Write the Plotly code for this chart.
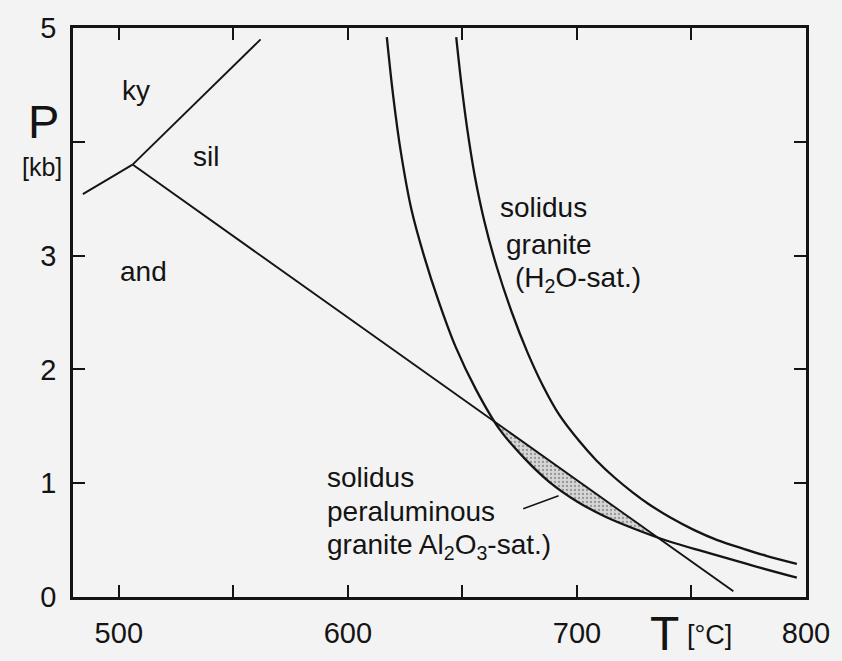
import numpy as np
import plotly.graph_objects as go

# Aluminosilicate phase boundaries (T in °C, P in kb)
triple_T, triple_P = 506.0, 3.80
ky_sil_T = [triple_T, 561.9]
ky_sil_P = [triple_P, 4.90]
ky_and_T = [triple_T, 484.3]
ky_and_P = [triple_P, 3.54]
and_sil_T = [triple_T, 768.3]
and_sil_P = [triple_P, 0.05]

# Solidus of peraluminous granite
solidus_al_T = [617.0, 619.8, 623.2, 627.8, 633.2, 639.6, 647.0, 656.0, 666.0,
                677.0, 688.0, 700.0, 712.0, 725.0, 740.0, 757.0, 776.0, 796.0]
solidus_al_P = [4.92, 4.40, 3.90, 3.40, 3.00, 2.60, 2.20, 1.82, 1.48,
                1.22, 1.01, 0.84, 0.71, 0.60, 0.49, 0.39, 0.28, 0.17]

# Water-saturated granite solidus
solidus_h2o_T = [647.3, 649.6, 652.2, 655.4, 659.6, 665.0, 671.6, 678.4, 685.3,
                 692.3, 701.0, 708.5, 716.4, 724.3, 731.1, 740.6, 751.0, 761.3,
                 772.5, 783.0, 796.0]
solidus_h2o_P = [4.92, 4.50, 4.10, 3.70, 3.30, 2.90, 2.50, 2.15, 1.85,
                 1.60, 1.37, 1.20, 1.05, 0.92, 0.82, 0.70, 0.59, 0.50,
                 0.425, 0.36, 0.292]

x_tickvals = [500, 600, 700, 800]
x_minor_ticks = [550, 650, 750]
y_tickvals = [0, 1, 2, 3, 5]
y_minor_ticks = [4]

FONT = "Liberation Sans, Arial, sans-serif"
INK = "#141414"
BG = "#f3f3f3"

# Shaded lens: where the peraluminous solidus lies below the and-sil line
tg = np.linspace(min(solidus_al_T), max(solidus_al_T), 2000)
a_p = np.interp(tg, solidus_al_T, solidus_al_P)
line_p = np.interp(tg, and_sil_T, and_sil_P)
mask = a_p < line_p
lens_T = tg[mask]
lens_x = np.concatenate([lens_T, lens_T[::-1]])
lens_y = np.concatenate([line_p[mask], a_p[mask][::-1]])

fig = go.Figure()

fig.add_trace(go.Scatter(
    x=lens_x, y=lens_y, mode="lines", fill="toself",
    fillcolor="rgba(190,190,190,0.8)",
    fillpattern=dict(shape=".", fgcolor="#555555", bgcolor="#d6d6d6",
                     size=4, solidity=0.25),
    line=dict(width=0), hoverinfo="skip", showlegend=False))

for xs, ys in [(ky_sil_T, ky_sil_P), (ky_and_T, ky_and_P), (and_sil_T, and_sil_P)]:
    fig.add_trace(go.Scatter(x=xs, y=ys, mode="lines",
                             line=dict(color=INK, width=1.9),
                             showlegend=False, hoverinfo="skip"))

for xs, ys in [(solidus_al_T, solidus_al_P), (solidus_h2o_T, solidus_h2o_P)]:
    fig.add_trace(go.Scatter(x=xs, y=ys, mode="lines",
                             line=dict(color=INK, width=2.3, shape="spline",
                                       smoothing=1.0),
                             showlegend=False, hoverinfo="skip"))

def label(x, y, text, size=28, xanchor="center"):
    fig.add_annotation(x=x, y=y, xref="x", yref="y", text=text,
                       showarrow=False, xanchor=xanchor, yanchor="middle",
                       font=dict(family=FONT, size=size, color=INK))

label(507.7, 4.45, "ky")
label(538.1, 3.87, "sil")
label(510.8, 2.86, "and")

label(665.5, 3.42, "solidus", xanchor="left")
label(668.0, 3.10, "granite", xanchor="left")
label(672.0, 2.79, "(H<sub>2</sub>O-sat.)", xanchor="left")

label(589.8, 1.05, "solidus", xanchor="left")
label(589.8, 0.75, "peraluminous", xanchor="left")
label(589.8, 0.44, "granite Al<sub>2</sub>O<sub>3</sub>-sat.)", xanchor="left")

# Leader line from the label to the shaded field
fig.add_annotation(x=692.0, y=0.89, ax=675.9, ay=0.77, xref="x", yref="y",
                   axref="x", ayref="y", text="", showarrow=True,
                   arrowhead=0, arrowwidth=1.5, arrowcolor=INK)

# Axis titles
fig.add_annotation(x=-0.0405, y=0.835, xref="paper", yref="paper", text="P",
                   showarrow=False, xanchor="center", yanchor="middle",
                   font=dict(family=FONT, size=47, color=INK))
fig.add_annotation(x=-0.042, y=0.755, xref="paper", yref="paper", text="[kb]",
                   showarrow=False, xanchor="center", yanchor="middle",
                   font=dict(family=FONT, size=25, color=INK))
fig.add_annotation(x=0.807, y=-0.064, xref="paper", yref="paper", text="T",
                   showarrow=False, xanchor="center", yanchor="middle",
                   font=dict(family=FONT, size=48, color=INK))
fig.add_annotation(x=0.868, y=-0.066, xref="paper", yref="paper", text="[°C]",
                   showarrow=False, xanchor="center", yanchor="middle",
                   font=dict(family=FONT, size=27, color=INK))

axis_common = dict(showgrid=False, zeroline=False, showline=True,
                   linecolor=INK, linewidth=2.5, mirror="allticks",
                   ticks="inside", ticklen=12, tickwidth=2, tickcolor=INK,
                   tickfont=dict(family=FONT, size=29, color=INK),
                   ticklabelstandoff=8)
minor_common = dict(ticks="inside", ticklen=12, tickwidth=2, tickcolor=INK,
                    showgrid=False)

fig.update_xaxes(range=[480, 800], tickvals=x_tickvals,
                 minor=dict(tickvals=x_minor_ticks, **minor_common),
                 **axis_common)
fig.update_yaxes(range=[0, 5], tickvals=y_tickvals,
                 minor=dict(tickvals=y_minor_ticks, **minor_common),
                 **axis_common)

fig.update_layout(width=842, height=661, autosize=False,
                  margin=dict(l=73, r=29, t=25, b=60),
                  paper_bgcolor=BG, plot_bgcolor=BG, showlegend=False)

fig.write_html("out.html")
